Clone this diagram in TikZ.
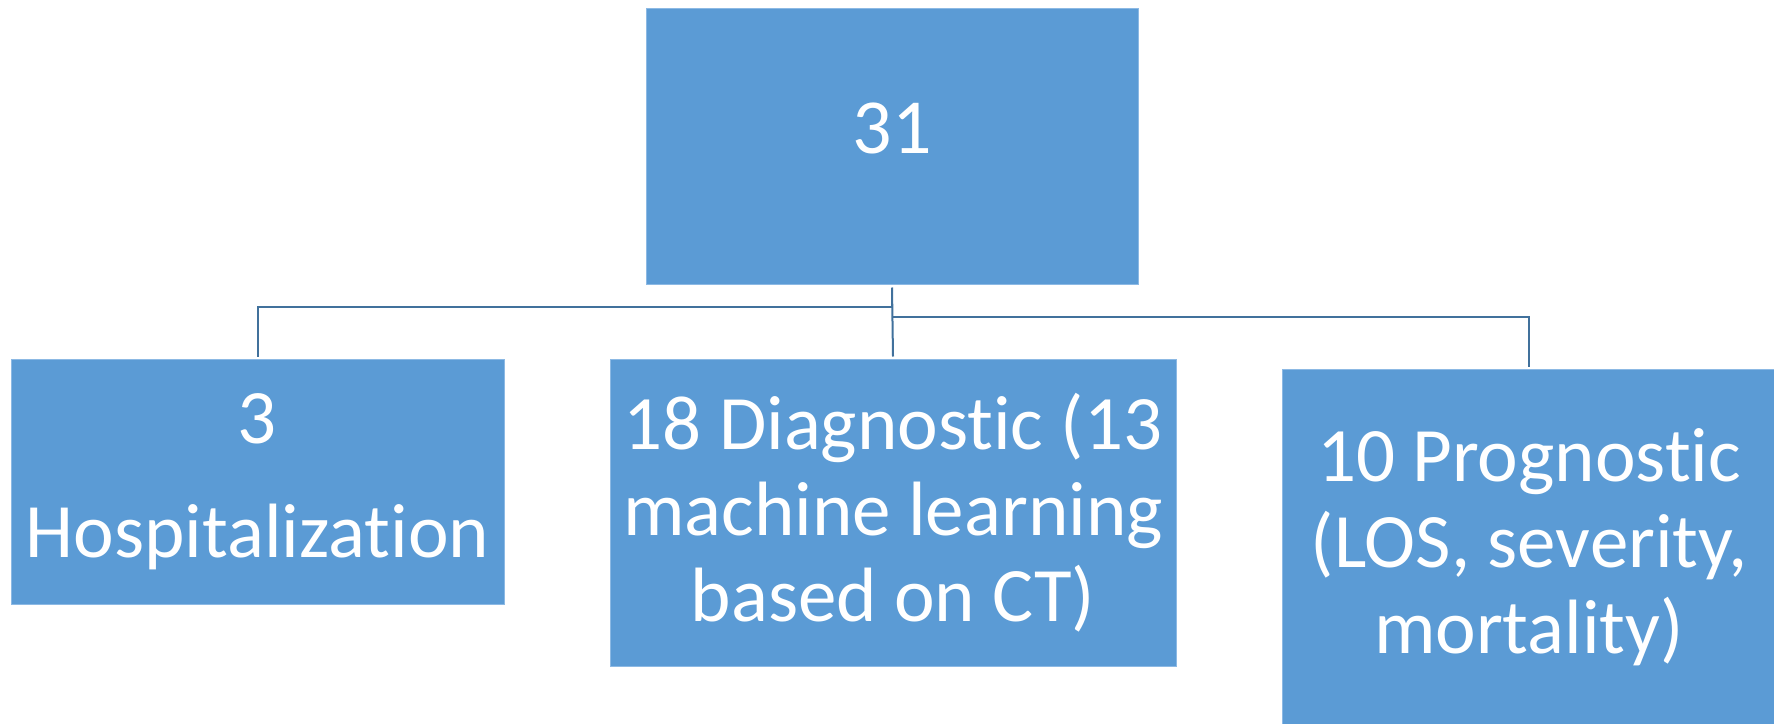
\documentclass[tikz,border=0pt]{standalone}
\usepackage{fontspec}
\setmainfont{Carlito}[Ligatures=NoCommon]
\definecolor{boxblue}{HTML}{5B9BD5}
\definecolor{boxedge}{HTML}{8CB9E4}
\definecolor{connblue}{HTML}{41719C}
\begin{document}
\begin{tikzpicture}[x=1pt,y=-1pt,
  box/.style={fill=boxblue,draw=boxedge,line width=1pt,text=white,align=center,inner sep=0pt,
    font=\fontsize{77}{86}\selectfont},
  conn/.style={draw=connblue,line width=2pt}]
\useasboundingbox (0,0) rectangle (1774,723);
\node[box,minimum width=492pt,minimum height=276pt,font=\fontsize{78}{87}\selectfont,
  text height=50pt,text depth=36pt] (top) at (892,146) {31};
\node[box,minimum width=493pt,minimum height=245pt,text depth=12pt] (left) at (257.5,481.5) {3\\[28pt]Hospitalization};
\node[box,minimum width=566pt,minimum height=307pt] (mid) at (893,512.5) {18 Diagnostic (13\\machine learning\\based on CT)};
\node[box,minimum width=494pt,minimum height=356pt] (right) at (1529,547) {10 Prognostic\\(LOS, severity,\\mortality)};
\coordinate (ja) at ([yshift=-3pt]top.south);
\draw[conn] (ja) -- ++(0,19) -| ([yshift=2pt]left.north);
\draw[conn] (ja) -- ([yshift=2pt]mid.north);
\draw[conn] (ja) ++(0,29) -| ([yshift=2pt]right.north);
\end{tikzpicture}
\end{document}
